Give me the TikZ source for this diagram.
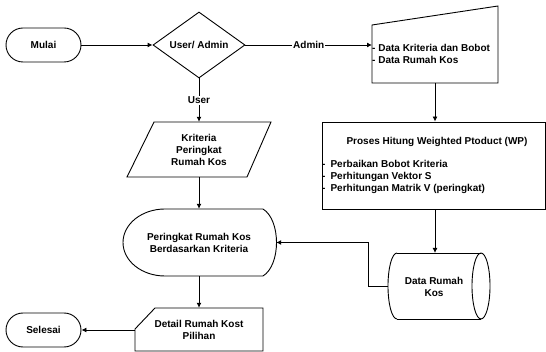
\documentclass[tikz,border=0pt]{standalone}
\usepackage{fontspec}
\setmainfont{Liberation Sans}
\usetikzlibrary{shapes.misc,shapes.geometric,arrows.meta}

\begin{document}
\begin{tikzpicture}[x=1pt,y=-1pt,
    garis/.style={draw=black, line width=0.9pt},
    panah/.style={garis, -{Latex[length=5pt,width=5pt]}},
    teks/.style={font=\fontsize{10}{12}\selectfont\bfseries, align=center, inner sep=1pt},
    terminal/.style={teks, garis, rounded rectangle, minimum width=77pt, minimum height=34pt}]
    \useasboundingbox (0,0) rectangle (546,352);

    % mulai dan pilihan user / admin
    \node[terminal] (mulai) at (43.5,45) {Mulai};
    \node[teks, garis, diamond, minimum width=92pt, minimum height=66pt, inner sep=0pt, aspect=1.4] (pilih) at (199,45) {User/ Admin};

    % input data oleh admin
    \draw[garis] (372,25) -- (498,6) -- (498,83) -- (372,83) -- cycle;
    \node[teks, align=left, anchor=west] (input) at (371,54) {- Data Kriteria dan Bobot\\- Data Rumah Kos};
    \coordinate (inputW) at (372,45);
    \coordinate (inputS) at (435,83);

    % proses WP
    \node[garis, minimum width=223pt, minimum height=87pt] (proses) at (433.5,165.5) {};
    \node[teks] (judul) at (437,142) {Proses Hitung Weighted Ptoduct (WP)};
    \node[teks, align=left, anchor=west] (langkah) at (321,177) {-\enspace Perbaikan Bobot Kriteria\\-\enspace Perhitungan Vektor S\\-\enspace Perhitungan Matrik V (peringkat)};

    % database rumah kos
    \draw[garis] (397,253) -- (481,253);
    \draw[garis] (397,319) -- (481,319);
    \draw[garis] (397,253) arc[start angle=270, end angle=90, x radius=9, y radius=33];
    \draw[garis] (481,286) ellipse[x radius=9, y radius=33];
    \node[teks] (datakos) at (434,286.5) {Data Rumah\\Kos};
    \coordinate (datakosW) at (388,286);
    \coordinate (datakosN) at (435,253);

    % input kriteria oleh user
    \draw[garis] (154,122) -- (271,122) -- (247,177) -- (127,177) -- cycle;
    \node[teks, minimum height=55pt] (kriteria) at (199,149.5) {Kriteria\\Peringkat\\Rumah Kos};

    % tampilan peringkat
    \draw[garis] (165,209) -- (263,209) .. controls (281,220) and (281,265) .. (263,276) -- (165,276) arc[start angle=90, end angle=270, x radius=42, y radius=33.5] -- cycle;
    \node[teks, minimum width=154pt, minimum height=67pt] (peringkat) at (199,242.5) {Peringkat Rumah Kos\\Berdasarkan Kriteria};

    % detail pilihan
    \draw[garis] (155,308) -- (263,308) -- (263,351) -- (135,351) -- (135,329) -- cycle;
    \node[teks, minimum width=128pt, minimum height=44pt] (detail) at (199,330) {Detail Rumah Kost\\Pilihan};

    \node[terminal] (selesai) at (43.5,330) {Selesai};

    % alur
    \draw[panah] (mulai.east) -- (pilih.west);
    \draw[panah] (pilih.east) -- node[teks, fill=white] {Admin} (inputW);
    \draw[panah] (pilih.south) -- node[teks, fill=white] {User} (kriteria.north);
    \draw[panah] (inputS) -- (inputS |- proses.north);
    \draw[panah] (datakosN |- proses.south) -- (datakosN);
    \draw[panah] (kriteria.south) -- (peringkat.north);
    \draw[panah] (datakosW) -- ++(-20,0) |- (peringkat.east);
    \draw[panah] (peringkat.south) -- (detail.north);
    \draw[panah] (detail.west) -- (selesai.east);
\end{tikzpicture}
\end{document}
